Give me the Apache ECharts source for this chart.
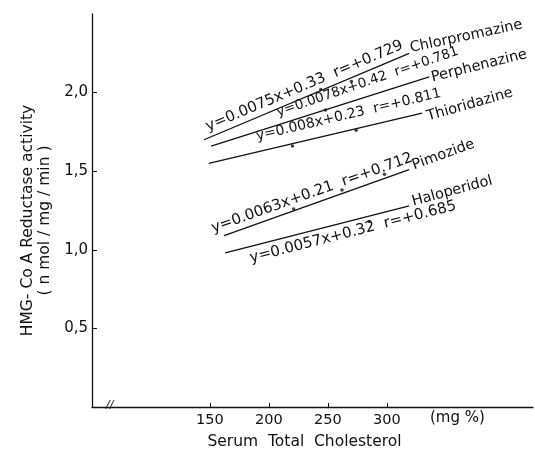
<!DOCTYPE html>
<html>
<head>
<meta charset="utf-8">
<script src="https://cdn.jsdelivr.net/npm/echarts@6/dist/echarts.min.js"></script>
<style>
html,body{margin:0;padding:0;background:#fff;}
#chart{width:535px;height:465px;}
</style>
</head>
<body>
<div id="chart"></div>
<script>
// ---- data ----
const drugs = ['Chlorpromazine', 'Perphenazine', 'Thioridazine', 'Pimozide', 'Haloperidol'];
const equations = [
  'y=0.0075x+0.33  r=+0.729',
  'y=0.0078x+0.42  r=+0.781',
  'y=0.008x+0.23  r=+0.811',
  'y=0.0063x+0.21  r=+0.712',
  'y=0.0057x+0.32  r=+0.685'
];
const lineStartX = [145, 151, 149, 162, 163];
const lineStartY = [1.70, 1.66, 1.55, 1.09, 0.98];
const lineEndX = [319, 336, 330, 319, 319];
const lineEndY = [2.25, 2.10, 1.87, 1.51, 1.28];
const chlorpromazineX = [244, 270];
const chlorpromazineY = [2.02, 2.07];
const perphenazineX = [248];
const perphenazineY = [1.89];
const thioridazineX = [220, 274];
const thioridazineY = [1.66, 1.76];
const pimozideX = [221, 262, 298];
const pimozideY = [1.26, 1.38, 1.48];
const haloperidolX = [285];
const haloperidolY = [1.18];
const xTicks = [150, 200, 250, 300];
const yTicks = [0.5, 1.0, 1.5, 2.0];

// ---- styles ----
const FONT = 'DejaVu Sans';
const eqEnd = [1.0, 1.16, 1.14, 1.05, 1.26];   // where along each line its equation ends
const eqTilt = [0, 0.04, 0, 0, 0];              // extra slope of the equation text
const eqSide = ['Top', 'Top', 'Top', 'Top', 'Bottom'];
const eqGap = [3, 3, 8, 3, 4];
const eqSize = [15, 13.5, 14, 15, 15];
const nameRot = [12, 14, 16, 20, 15];
const nameLift = [-5, 1, 4, -4, -4];
const nameDist = [2, 2, 4, 5, 4];

const pointSets = [
  [chlorpromazineX, chlorpromazineY],
  [perphenazineX, perphenazineY],
  [thioridazineX, thioridazineY],
  [pimozideX, pimozideY],
  [haloperidolX, haloperidolY]
];

const series = [];
drugs.forEach((d, i) => {
  const s = [lineStartX[i], lineStartY[i]];
  const e = [lineEndX[i], lineEndY[i]];
  const f = eqEnd[i];
  const m = [s[0] + f * (e[0] - s[0]), s[1] + f * (e[1] - s[1]) + eqTilt[i]];
  series.push({
    type: 'line',
    name: d,
    data: [s, e],
    symbol: 'none',
    silent: true,
    lineStyle: { color: '#111', width: 1.3 },
    markLine: {
      silent: true,
      symbol: 'none',
      animation: false,
      lineStyle: { color: 'rgba(0,0,0,0)', width: 0, type: 'solid' },
      label: {
        show: true,
        position: 'insideEnd' + eqSide[i],
        formatter: equations[i],
        fontFamily: FONT,
        fontSize: eqSize[i],
        color: '#111',
        distance: eqGap[i]
      },
      emphasis: { disabled: true },
      data: [[{ coord: s }, { coord: m }]]
    },
    markPoint: {
      silent: true,
      animation: false,
      symbol: 'circle',
      symbolSize: 0,
      data: [{ coord: e }],
      label: {
        show: true,
        position: 'right',
        distance: nameDist[i],
        offset: [0, nameLift[i]],
        rotate: nameRot[i],
        formatter: d,
        fontFamily: FONT,
        fontSize: 14.5,
        color: '#111'
      }
    }
  });
  const px = pointSets[i][0], py = pointSets[i][1];
  series.push({
    type: 'scatter',
    silent: true,
    symbolSize: 3.5,
    itemStyle: { color: '#111' },
    data: px.map((x, k) => [x, py[k]])
  });
});

const chart = echarts.init(document.getElementById('chart'));
chart.setOption({
  animation: false,
  backgroundColor: '#fff',
  grid: { left: 92, right: 2, top: 14, bottom: 58 },
  xAxis: {
    type: 'value',
    min: 50,
    max: 424,
    splitLine: { show: false },
    axisLine: { lineStyle: { color: '#111', width: 1.3 } },
    axisTick: { inside: true, length: 4, customValues: xTicks, lineStyle: { color: '#111' } },
    axisLabel: { customValues: xTicks, fontFamily: FONT, fontSize: 14.5, color: '#111', margin: 6 },
    name: 'Serum  Total  Cholesterol',
    nameLocation: 'middle',
    nameGap: 27,
    nameTextStyle: { fontFamily: FONT, fontSize: 15.5, color: '#111', padding: [0, 16, 0, 0] }
  },
  yAxis: {
    type: 'value',
    min: 0,
    max: 2.5,
    splitLine: { show: false },
    axisLine: { lineStyle: { color: '#111', width: 1.3 } },
    axisTick: { inside: true, length: 5, customValues: yTicks, lineStyle: { color: '#111' } },
    axisLabel: {
      customValues: yTicks,
      fontFamily: FONT, fontSize: 15, color: '#111', margin: 4,
      formatter: v => v.toFixed(1).replace('.', ',')
    },
    name: 'HMG- Co A Reductase activity\n( n mol / mg / min )',
    nameLocation: 'middle',
    nameRotate: 90,
    nameGap: 36,
    nameTextStyle: { fontFamily: FONT, fontSize: 15.5, color: '#111', lineHeight: 17, padding: [0, 20, 0, 0] }
  },
  graphic: [
    { type: 'text', left: 430, top: 411, style: { text: '(mg %)', font: '15px "DejaVu Sans"', fill: '#111' } },
    { type: 'text', left: 106, top: 400, style: { text: '//', font: 'italic 11px "DejaVu Sans"', fill: '#111' } }
  ],
  series: series
});
</script>
</body>
</html>
